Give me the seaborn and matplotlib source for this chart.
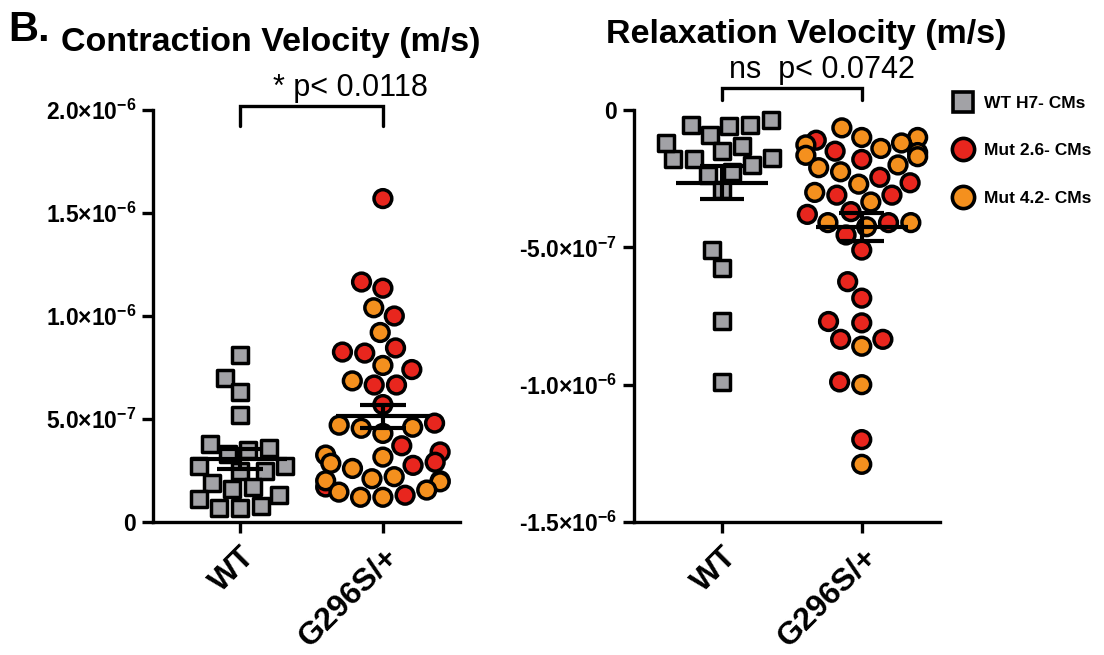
import numpy as np
import pandas as pd
import matplotlib
matplotlib.use("Agg")
import matplotlib.pyplot as plt
import seaborn as sns
from matplotlib.lines import Line2D

# ---------------- data (m/s) ----------------
groups = ["WT", "G296S/+"]
lines = ["WT H7- CMs", "Mut 2.6- CMs", "Mut 4.2- CMs"]

cv_wt = [8.1, 7.0, 6.3, 5.2, 3.8, 3.6, 3.5, 3.3, 2.7, 2.5, 2.7, 2.5, 1.9, 1.7,
         1.3, 1.6, 1.1, 0.8, 0.7, 0.7]                         # x1e-7
cv_mut26 = [15.7, 11.65, 11.35, 10.0, 8.25, 8.2, 8.45, 7.4, 6.65, 6.65, 5.7,
            4.8, 3.7, 3.4, 2.9, 2.75, 1.7, 1.3]                  # x1e-7
cv_mut42 = [10.4, 9.2, 7.6, 6.85, 4.6, 4.3, 4.55, 4.7, 3.25, 3.15, 2.85, 2.6,
            2.0, 2.1, 2.2, 1.95, 2.0, 1.55, 1.2, 1.2, 1.45]       # x1e-7

rv_wt = [-0.55, -0.6, -0.55, -0.36, -0.9, -1.5, -1.75, -1.8, -1.8, -2.0, -2.35,
         -2.25, -2.9, -1.3, -1.2, -5.1, -5.75, -7.7, -9.9]       # x1e-7
rv_mut26 = [-1.1, -1.8, -2.65, -2.45, -3.1, -3.1, -3.7, -3.8, -4.1, -4.55,
            -5.1, -6.25, -6.85, -7.7, -7.75, -8.35, -8.35, -9.9, -12.0, -1.5]
rv_mut42 = [-1.0, -1.27, -1.0, -0.65, -1.4, -1.65, -1.55, -1.7, -2.25, -2.1,
            -3.0, -2.7, -3.35, -4.1, -4.1, -4.25, -8.6, -10.0, -12.9, -1.2, -2.0]

yticks_left = [0, 5e-7, 1e-6, 1.5e-6, 2e-6]
ylabels_left = ["0", "5.0×10$^{-7}$", "1.0×10$^{-6}$", "1.5×10$^{-6}$", "2.0×10$^{-6}$"]
yticks_right = [0, -5e-7, -1e-6, -1.5e-6]
ylabels_right = ["0", "-5.0×10$^{-7}$", "-1.0×10$^{-6}$", "-1.5×10$^{-6}$"]

titles = ["Contraction Velocity (m/s)", "Relaxation Velocity (m/s)"]
ptexts = ["* p< 0.0118", "ns  p< 0.0742"]

colors = {"WT H7- CMs": "#A2A2A6", "Mut 2.6- CMs": "#E8261E", "Mut 4.2- CMs": "#F4901E"}


def frame(wt, m26, m42):
    rows = []
    for v in wt:
        rows.append(("WT", v * 1e-7, lines[0]))
    for v in m26:
        rows.append(("G296S/+", v * 1e-7, lines[1]))
    for v in m42:
        rows.append(("G296S/+", v * 1e-7, lines[2]))
    return pd.DataFrame(rows, columns=["group", "value", "line"])


df_c = frame(cv_wt, cv_mut26, cv_mut42)
df_r = frame(rv_wt, rv_mut26, rv_mut42)

# ---------------- style ----------------
sns.set_style("white")
plt.rcParams["font.family"] = ["Liberation Sans", "DejaVu Sans"]
plt.rcParams["mathtext.fontset"] = "custom"
plt.rcParams["mathtext.rm"] = "Liberation Sans:bold"
plt.rcParams["mathtext.bf"] = "Liberation Sans:bold"
plt.rcParams["mathtext.default"] = "rm"
for k in ["text.color", "axes.labelcolor", "xtick.color", "ytick.color"]:
    plt.rcParams[k] = "black"

fig = plt.figure(figsize=(11.04, 6.55), dpi=100)
ax1 = fig.add_axes([153 / 1104, 1 - 522 / 655, 307 / 1104, 412 / 655])
ax2 = fig.add_axes([634 / 1104, 1 - 522 / 655, 306 / 1104, 412 / 655])

LW = 2.4
MS = 12


def draw(ax, df, yticks, ylabels, ylim):
    wt = df[df.line == lines[0]]
    mut = df[df.line != lines[0]]
    sns.swarmplot(data=wt, x="group", y="value", order=groups, marker="s",
                  color=colors[lines[0]], edgecolor="black", linewidth=2.5,
                  size=MS, ax=ax, zorder=3)
    sns.swarmplot(data=mut, x="group", y="value", order=groups, hue="line",
                  hue_order=lines[1:], palette=colors, edgecolor="black",
                  linewidth=2.5, size=MS + 0.8, ax=ax, legend=False, zorder=3)
    for c in ax.collections:
        if len(c.get_offsets()) > 0:
            c.set_clip_on(False)
    # mean and SEM
    for i, g in enumerate(groups):
        vals = df[df.group == g].value.to_numpy()
        m = vals.mean()
        se = vals.std(ddof=1) / np.sqrt(len(vals))
        ax.hlines(m, i - 0.33, i + 0.33, color="black", lw=3, zorder=10)
        ax.vlines(i, m - se, m + se, color="black", lw=3, zorder=10)
        ax.hlines([m - se, m + se], i - 0.16, i + 0.16, color="black", lw=3, zorder=10)
    ax.set_ylim(*ylim)
    ax.set_yticks(yticks)
    ax.set_yticklabels(ylabels, fontsize=16.5, fontweight="bold")
    ax.set_xlabel("")
    ax.set_ylabel("")
    ax.set_xticks([0, 1])
    ax.set_xticklabels(groups, fontsize=23, fontweight="bold", rotation=45,
                       ha="right", rotation_mode="anchor")
    for s in ["top", "right"]:
        ax.spines[s].set_visible(False)
    for s in ["left", "bottom"]:
        ax.spines[s].set_linewidth(LW)
        ax.spines[s].set_color("black")
    ax.tick_params(axis="both", direction="out", length=8, width=LW, color="black",
                   left=True, bottom=True)
    ax.tick_params(axis="y", pad=4)
    ax.tick_params(axis="x", pad=6)


draw(ax1, df_c, yticks_left, ylabels_left, (0, 2e-6))
draw(ax2, df_r, yticks_right, ylabels_right, (-1.5e-6, 0))
ax1.set_xlim(-0.607, 1.539)
ax2.set_xlim(-0.63, 1.56)

# significance brackets
ax1.plot([0, 0, 1, 1], [1.92e-6, 2.02e-6, 2.02e-6, 1.92e-6], color="black", lw=LW,
         clip_on=False, solid_joinstyle="miter")
ax2.plot([0, 0, 1, 1], [0.035e-6, 0.08e-6, 0.08e-6, 0.035e-6], color="black", lw=LW,
         clip_on=False, solid_joinstyle="miter")
fig.text(350 / 1104, 1 - 88 / 655, ptexts[0], ha="center", va="center", fontsize=22)
fig.text(822 / 1104, 1 - 70 / 655, ptexts[1], ha="center", va="center", fontsize=22)

# titles
fig.text(8 / 1104, 1 - 30 / 655, "B.", ha="left", va="center", fontsize=30, fontweight="bold")
fig.text(271 / 1104, 1 - 43 / 655, titles[0], ha="center", va="center", fontsize=24.5,
         fontweight="bold")
fig.text(806 / 1104, 1 - 35 / 655, titles[1], ha="center", va="center", fontsize=24.5,
         fontweight="bold")

# legend
handles = [
    Line2D([], [], ls="", marker="s", ms=14, mfc=colors[lines[0]], mec="black", mew=2.6),
    Line2D([], [], ls="", marker="o", ms=16, mfc=colors[lines[1]], mec="black", mew=2.6),
    Line2D([], [], ls="", marker="o", ms=16, mfc=colors[lines[2]], mec="black", mew=2.6),
]
fig.legend(handles, lines, loc="upper left", bbox_to_anchor=(954 / 1104, 1 - 96 / 655),
           frameon=False, prop={"weight": "bold", "size": 12.5}, labelspacing=1.85,
           handletextpad=0.7, handlelength=1.0, borderaxespad=0, borderpad=0)

fig.savefig("out.png", dpi=100)
